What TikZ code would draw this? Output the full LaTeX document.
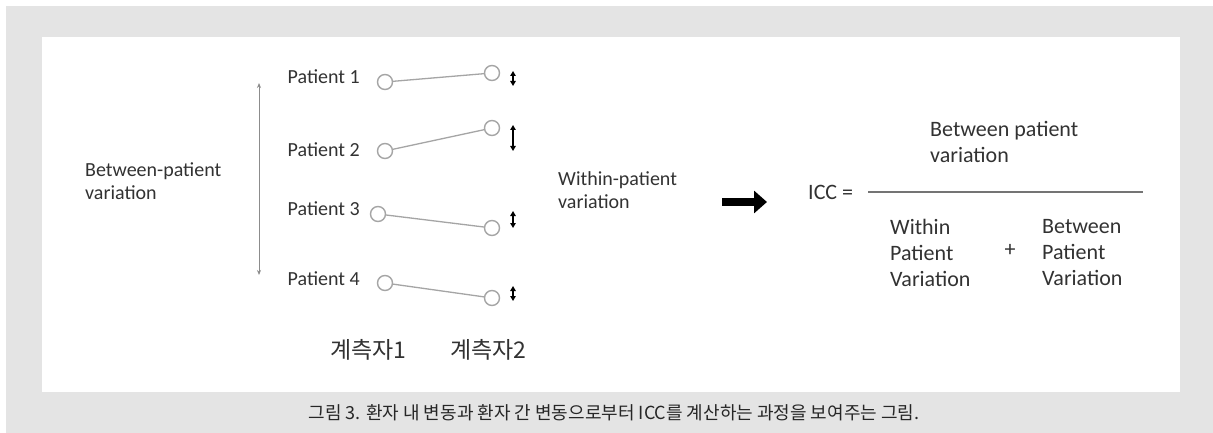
\documentclass[tikz,border=0pt]{standalone}
\usepackage{fontspec}
\setmainfont{Carlito}
\newfontfamily\krfont{Noto Sans CJK KR}
\usetikzlibrary{arrows.meta}
\definecolor{bggray}{RGB}{228,228,228}
\definecolor{txtgray}{RGB}{50,50,50}
\definecolor{linegray}{RGB}{165,165,165}

\begin{document}
\begin{tikzpicture}[x=1pt,y=-1pt,>=Stealth,
    txt/.style={font=\fontsize{20}{23.5}\selectfont, text=txtgray, align=left, inner sep=0pt},
    bigtxt/.style={font=\fontsize{22}{26}\selectfont, text=txtgray, align=left, inner sep=0pt},
    ring/.style={circle, draw=linegray, line width=1.4pt, minimum size=15pt, inner sep=0pt},
    tick/.style={{Triangle[length=5pt,width=5.5pt]}-{Triangle[length=5pt,width=5.5pt]}, line width=1.2pt, black}]

\useasboundingbox (0,0) rectangle (1213,433);
\fill[bggray] (6,6) rectangle (1213,433);
\fill[white] (42,37) rectangle (1180,392);

% left side
\node[txt, anchor=west] (btw) at (85,181) {Between-patient\\variation};
\coordinate (top) at (259,83);
\coordinate (bot) at (259,275);
\draw[{Stealth[length=5pt,width=4pt]}-{Stealth[length=5pt,width=4pt]}, linegray!85!black, line width=1pt] (top)--(bot);

\foreach \n/\ty/\lx/\ly/\ry/\ta/\tb in {1/77/385/82/73/71/86, 2/150/385/151/128/125/151, 3/209/378/214/228/211/228, 4/279/385/283/298/286/301}
{
    \node[txt, anchor=east] (p\n) at (360,\ty) {Patient \n};
    \node[ring] (a\n) at (\lx,\ly) {};
    \node[ring] (b\n) at (492,\ry) {};
    \draw[linegray, line width=1.3pt] (a\n)--(b\n);
    \draw[tick] (513,\ta)--(513,\tb);
}

\node[font=\krfont\fontsize{23}{23}\selectfont, text=txtgray, anchor=west, inner sep=0pt] (r1) at (330,350) {계측자1};
\node[font=\krfont\fontsize{23}{23}\selectfont, text=txtgray, anchor=west, inner sep=0pt] (r2) at (450,350) {계측자2};

% right side
\node[txt, anchor=west] (wth) at (558,190) {Within-patient\\variation};
\coordinate (fa) at (722,202);
\coordinate (fb) at (767,202);
\draw[line width=8pt, -{Triangle[length=13pt,width=22pt]}, black] (fa)--(fb);

\node[bigtxt, anchor=west] (icc) at (808,192) {ICC =};
\draw[linegray!70!black, line width=1.2pt] (868,192)--(1143,192);
\node[bigtxt, anchor=west] (num) at (930,142) {Between patient\\variation};
\node[bigtxt, anchor=west] (den1) at (890,253) {Within\\Patient\\Variation};
\node[bigtxt] (plus) at (1010,250) {+};
\node[bigtxt, anchor=west] (den2) at (1042,253) {Between\\Patient\\Variation};

\node[font=\krfont\fontsize{18}{18}\selectfont, text=black!85, inner sep=0pt] (cap) at (614,413) {그림 3. 환자 내 변동과 환자 간 변동으로부터 ICC를 계산하는 과정을 보여주는 그림.};

\end{tikzpicture}
\end{document}
